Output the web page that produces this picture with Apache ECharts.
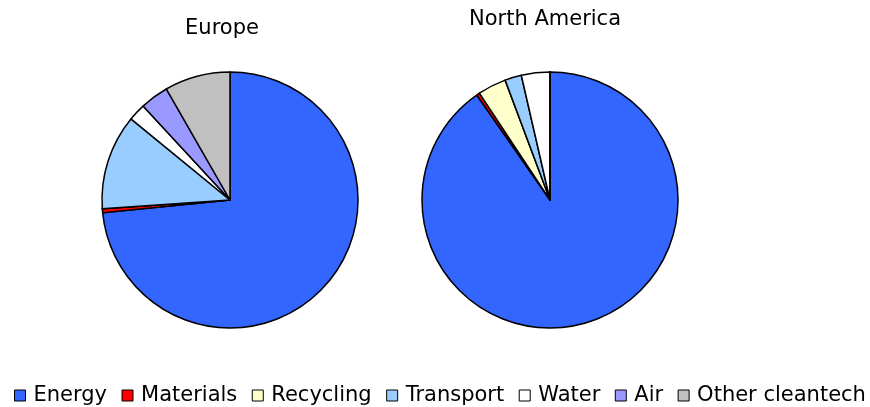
<!DOCTYPE html>
<html>
<head>
<meta charset="utf-8">
<script src="https://cdn.jsdelivr.net/npm/echarts@6/dist/echarts.min.js"></script>
<style>
  html, body { margin: 0; padding: 0; background: #fff; }
  #chart { width: 870px; height: 407px; }
</style>
</head>
<body>
<div id="chart"></div>
<script>
// categories shared by both pies
const categories = ["Energy", "Materials", "Recycling", "Transport", "Water", "Air", "Other cleantech"];
const colors = ["#3366FF", "#FF0000", "#FFFFCC", "#99CCFF", "#FFFFFF", "#9999FF", "#C0C0C0"];

// share per category, %
const europeValues = [73.5, 0.5, 0, 12.0, 2.2, 3.6, 8.3];
const northAmericaValues = [90.3, 0.4, 3.6, 2.1, 3.6, 0, 0];

const regions = ["Europe", "North America"];

const font = "DejaVu Sans";

function toData(values) {
  return categories.map((name, i) => ({
    name: name,
    value: values[i],
    itemStyle: { color: colors[i] },
  }));
}

function pieSeries(name, values, cx) {
  return {
    name: name,
    type: "pie",
    center: [cx, 200],
    radius: 128,
    startAngle: 90,
    clockwise: true,
    animation: false,
    label: { show: false },
    labelLine: { show: false },
    emphasis: { disabled: true },
    itemStyle: { borderColor: "#000", borderWidth: 1.5 },
    data: toData(values),
  };
}

const chart = echarts.init(document.getElementById("chart"));
chart.setOption({
  backgroundColor: "#fff",
  color: colors,
  title: [
    {
      text: regions[0],
      left: 217,
      top: 13,
      textAlign: "center",
      textStyle: { fontFamily: font, fontSize: 21, fontWeight: "normal", color: "#000" },
    },
    {
      text: regions[1],
      left: 540,
      top: 4,
      textAlign: "center",
      textStyle: { fontFamily: font, fontSize: 21, fontWeight: "normal", color: "#000" },
    },
  ],
  legend: {
    data: categories,
    left: 14,
    top: 385,
    icon: "rect",
    itemWidth: 11,
    itemHeight: 11,
    itemGap: 14.5,
    padding: 0,
    selectedMode: false,
    itemStyle: { borderColor: "#000", borderWidth: 1 },
    textStyle: { fontFamily: font, fontSize: 21, color: "#000", padding: [0, 0, 0, 3] },
  },
  series: [
    pieSeries(regions[0], europeValues, 230),
    pieSeries(regions[1], northAmericaValues, 550),
  ],
});
</script>
</body>
</html>
